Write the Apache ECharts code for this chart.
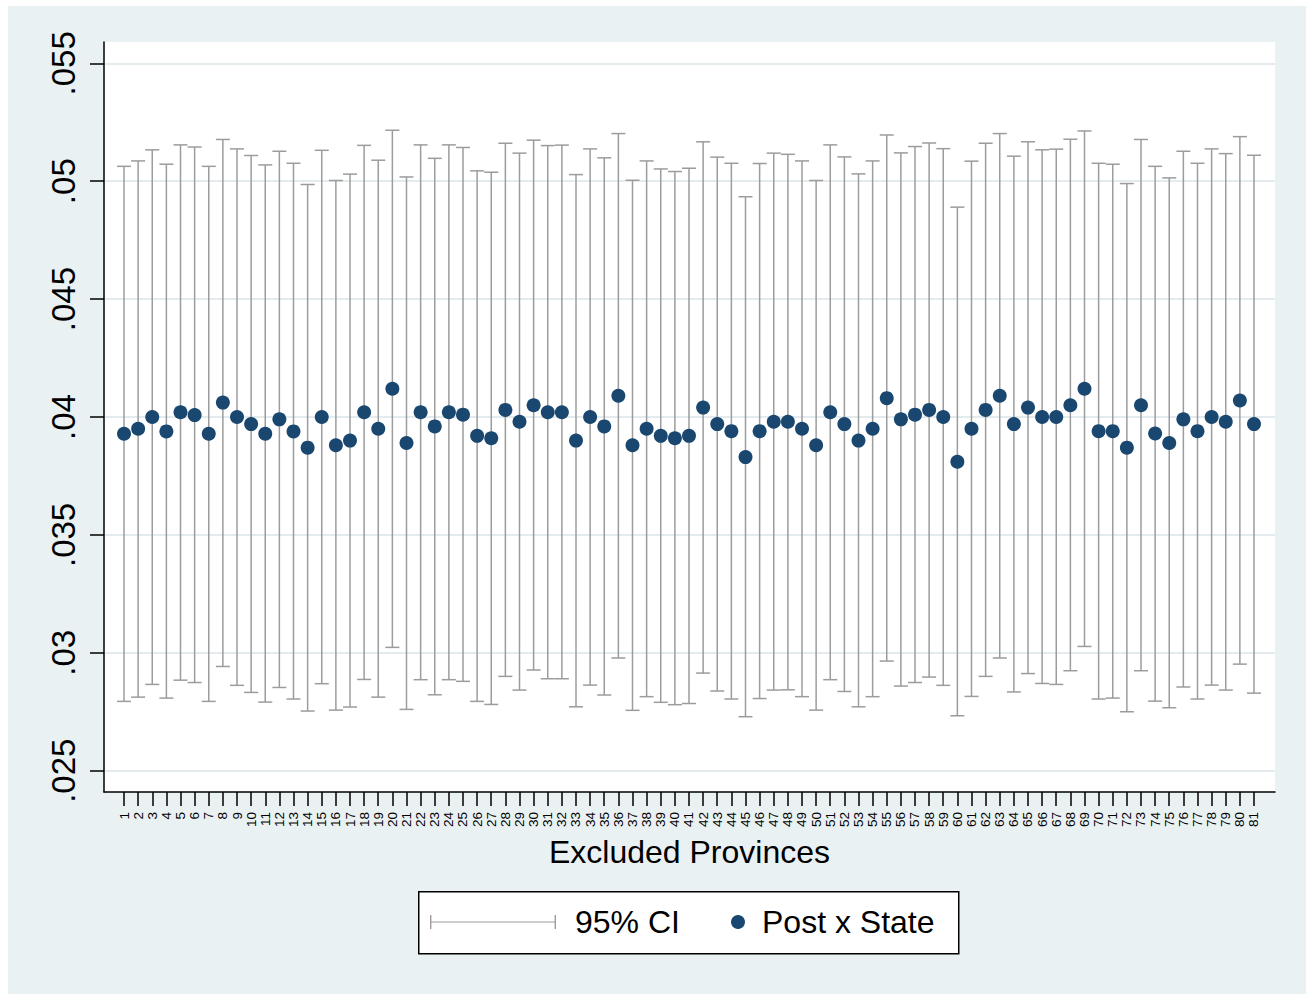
<!DOCTYPE html>
<html>
<head>
<meta charset="utf-8">
<script src="https://cdn.jsdelivr.net/npm/echarts@6/dist/echarts.min.js"></script>
<style>
  html, body { margin: 0; padding: 0; background: #ffffff; }
  #chart { position: absolute; left: 8px; top: 6px; width: 1298px; height: 988px; }
</style>
</head>
<body>
<div id="chart"></div>
<script>
// Excluded province index (one estimate per leave-one-out run)
const provinces = [
  1, 2, 3, 4, 5, 6, 7, 8, 9, 10, 11, 12, 13, 14, 15, 16, 17, 18, 19, 20,
  21, 22, 23, 24, 25, 26, 27, 28, 29, 30, 31, 32, 33, 34, 35, 36, 37, 38, 39, 40,
  41, 42, 43, 44, 45, 46, 47, 48, 49, 50, 51, 52, 53, 54, 55, 56, 57, 58, 59, 60,
  61, 62, 63, 64, 65, 66, 67, 68, 69, 70, 71, 72, 73, 74, 75, 76, 77, 78, 79, 80, 81
];

// Post x State coefficient
const estimates = [
  0.03929, 0.03950, 0.04000, 0.03939, 0.04020, 0.04008, 0.03929, 0.04061, 0.04000, 0.03970,
  0.03929, 0.03990, 0.03939, 0.03870, 0.04000, 0.03880, 0.03900, 0.04020, 0.03950, 0.04120,
  0.03890, 0.04020, 0.03960, 0.04020, 0.04010, 0.03920, 0.03910, 0.04030, 0.03980, 0.04050,
  0.04020, 0.04020, 0.03900, 0.04000, 0.03960, 0.04090, 0.03880, 0.03950, 0.03920, 0.03910,
  0.03920, 0.04040, 0.03970, 0.03940, 0.03830, 0.03940, 0.03980, 0.03980, 0.03950, 0.03880,
  0.04020, 0.03970, 0.03900, 0.03950, 0.04080, 0.03990, 0.04010, 0.04030, 0.04000, 0.03810,
  0.03950, 0.04030, 0.04090, 0.03970, 0.04040, 0.04000, 0.04000, 0.04050, 0.04120, 0.03940,
  0.03940, 0.03870, 0.04050, 0.03930, 0.03890, 0.03990, 0.03940, 0.04000, 0.03980, 0.04070, 0.03970
];

// 95% confidence interval bounds
const ciLower = [
  0.02794, 0.02812, 0.02866, 0.02808, 0.02884, 0.02874, 0.02794, 0.02942, 0.02862, 0.02832,
  0.02791, 0.02853, 0.02804, 0.02753, 0.02869, 0.02757, 0.02770, 0.02887, 0.02812, 0.03023,
  0.02760, 0.02886, 0.02822, 0.02886, 0.02879, 0.02794, 0.02781, 0.02900, 0.02842, 0.02927,
  0.02890, 0.02890, 0.02771, 0.02863, 0.02821, 0.02978, 0.02756, 0.02814, 0.02790, 0.02780,
  0.02785, 0.02914, 0.02838, 0.02804, 0.02729, 0.02806, 0.02842, 0.02843, 0.02814, 0.02757,
  0.02886, 0.02836, 0.02771, 0.02814, 0.02965, 0.02859, 0.02874, 0.02897, 0.02862, 0.02733,
  0.02815, 0.02900, 0.02978, 0.02834, 0.02912, 0.02870, 0.02866, 0.02924, 0.03027, 0.02804,
  0.02808, 0.02750, 0.02924, 0.02795, 0.02767, 0.02855, 0.02804, 0.02863, 0.02842, 0.02952, 0.02829
];
const ciUpper = [
  0.05063, 0.05086, 0.05133, 0.05072, 0.05154, 0.05145, 0.05063, 0.05177, 0.05137, 0.05109,
  0.05069, 0.05127, 0.05076, 0.04986, 0.05131, 0.05003, 0.05030, 0.05152, 0.05089, 0.05216,
  0.05018, 0.05154, 0.05097, 0.05154, 0.05143, 0.05044, 0.05038, 0.05161, 0.05119, 0.05174,
  0.05151, 0.05153, 0.05028, 0.05137, 0.05099, 0.05202, 0.05004, 0.05086, 0.05052, 0.05041,
  0.05055, 0.05167, 0.05102, 0.05076, 0.04934, 0.05075, 0.05119, 0.05114, 0.05086, 0.05003,
  0.05154, 0.05103, 0.05031, 0.05086, 0.05196, 0.05120, 0.05147, 0.05162, 0.05138, 0.04890,
  0.05085, 0.05161, 0.05202, 0.05106, 0.05167, 0.05133, 0.05136, 0.05178, 0.05213, 0.05076,
  0.05072, 0.04990, 0.05177, 0.05063, 0.05014, 0.05127, 0.05076, 0.05137, 0.05117, 0.05189, 0.05110
];

// y-axis tick values and their labels
const yTicks = [0.025, 0.03, 0.035, 0.04, 0.045, 0.05, 0.055];
const yTickLabels = ['.025', '.03', '.035', '.04', '.045', '.05', '.055'];

const FONT = 'Liberation Sans, Arial, sans-serif';
const CI_COLOR = '#9c9c9c';
const DOT_COLOR = '#1a476f';

const ciData = provinces.map((p, i) => [p, ciLower[i], ciUpper[i]]);
const pointData = provinces.map((p, i) => [p, estimates[i]]);

// Whisker with caps at both ends, placed through the axis scales
function renderCI(params, api) {
  const x = api.value(0);
  const lo = api.coord([x, api.value(1)]);
  const hi = api.coord([x, api.value(2)]);
  const cap = 7;
  const style = { stroke: CI_COLOR, lineWidth: 1.5 };
  return {
    type: 'group',
    children: [
      { type: 'line', shape: { x1: lo[0], y1: lo[1], x2: hi[0], y2: hi[1] }, style: style },
      { type: 'line', shape: { x1: lo[0] - cap, y1: lo[1], x2: lo[0] + cap, y2: lo[1] }, style: style },
      { type: 'line', shape: { x1: hi[0] - cap, y1: hi[1], x2: hi[0] + cap, y2: hi[1] }, style: style }
    ]
  };
}

const chart = echarts.init(document.getElementById('chart'), null, { renderer: 'svg' });

chart.setOption({
  backgroundColor: '#eaf1f3',
  animation: false,
  textStyle: { fontFamily: FONT },
  grid: {
    left: 96, right: 31, top: 36, bottom: 202,
    show: true, backgroundColor: '#ffffff', borderWidth: 0,
    outerBoundsMode: 'none'
  },
  xAxis: {
    type: 'value',
    min: -0.416, max: 82.487,
    name: 'Excluded Provinces',
    nameLocation: 'middle',
    nameGap: 44,
    nameTextStyle: { fontSize: 32, color: '#000', fontFamily: FONT },
    axisLine: { show: true, onZero: false, lineStyle: { color: '#000', width: 1.5 } },
    axisTick: { show: true, length: 14, customValues: provinces, lineStyle: { color: '#000', width: 1.5 } },
    axisLabel: {
      show: true, rotate: 90, margin: 20, fontSize: 13.5, color: '#000', fontFamily: FONT,
      customValues: provinces,
      formatter: v => String(v)
    },
    splitLine: { show: false }
  },
  yAxis: {
    type: 'value',
    min: 0.024097, max: 0.055903,
    axisLine: { show: true, onZero: false, lineStyle: { color: '#000', width: 1.5 } },
    axisTick: { show: true, length: 14, customValues: yTicks, lineStyle: { color: '#000', width: 1.5 } },
    axisLabel: {
      show: true, rotate: 90, margin: 24, fontSize: 33, color: '#000', fontFamily: FONT,
      customValues: yTicks,
      formatter: v => {
        const i = yTicks.findIndex(t => Math.abs(t - v) < 1e-9);
        return i >= 0 ? yTickLabels[i] : '';
      }
    },
    splitLine: { show: true, lineStyle: { color: '#e3ebee', width: 2 } }
  },
  legend: [
    {
      data: [{
        name: '95% CI',
        icon: 'path://M0,0h1.4v14h-1.4z M0,6.4h126v1.2h-126z M124.6,0h1.4v14h-1.4z',
        itemStyle: { color: CI_COLOR, borderWidth: 0 }
      }],
      left: 422, top: 900,
      padding: 0,
      itemWidth: 126, itemHeight: 14,
      selectedMode: false,
      textStyle: { fontSize: 32, color: '#000', fontFamily: FONT, padding: [0, 0, 0, 14] }
    },
    {
      data: [{ name: 'Post x State', icon: 'circle', itemStyle: { color: DOT_COLOR } }],
      left: 723, top: 900,
      padding: 0,
      itemWidth: 14, itemHeight: 14,
      selectedMode: false,
      textStyle: { fontSize: 32, color: '#000', fontFamily: FONT, padding: [0, 0, 0, 12] }
    }
  ],
  graphic: [
    {
      type: 'rect', left: 410, top: 885, z: 0,
      shape: { width: 540, height: 62 },
      style: { fill: '#ffffff', stroke: '#000000', lineWidth: 1.5 }
    }
  ],
  series: [
    {
      name: '95% CI',
      type: 'custom',
      renderItem: renderCI,
      encode: { x: 0, y: [1, 2] },
      itemStyle: { color: CI_COLOR },
      data: ciData,
      z: 2
    },
    {
      name: 'Post x State',
      type: 'scatter',
      symbol: 'circle',
      symbolSize: 14,
      itemStyle: { color: DOT_COLOR, opacity: 1 },
      data: pointData,
      z: 3
    }
  ]
});
</script>
</body>
</html>
